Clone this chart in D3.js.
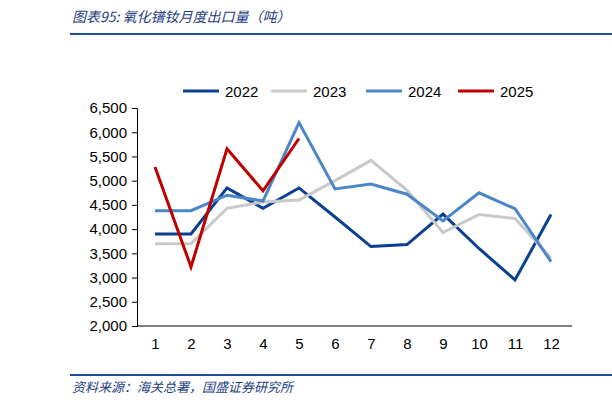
<!DOCTYPE html>
<html><head><meta charset="utf-8">
<script src="https://cdn.jsdelivr.net/npm/d3@7"></script>
<style>body{margin:0;background:#fff;font-family:"Liberation Sans",Arial,sans-serif}</style>
</head><body><svg id="c" width="612" height="409"></svg>
<script>
const months=[1,2,3,4,5,6,7,8,9,10,11,12];
const s2022=[3900,3900,4850,4430,4850,4250,3640,3680,4310,3600,2950,4300];
const s2023=[3700,3700,4430,4560,4600,5000,5420,4800,3930,4300,4220,3400];
const s2024=[4380,4380,4700,4580,6200,4830,4930,4720,4170,4750,4420,3330];
const s2025=[5280,3220,5660,4790,5870];
const yTicks=[2000,2500,3000,3500,4000,4500,5000,5500,6000,6500];
const series=[{n:"2022",v:s2022,c:"#0b3f8f"},{n:"2023",v:s2023,c:"#c9c9c9"},{n:"2024",v:s2024,c:"#4a86c8"},{n:"2025",v:s2025,c:"#c00000"}];
const svg=d3.select("#c");
svg.append("text").attr("x",72).attr("y",22).attr("fill","#1f3f7f").attr("font-size",14).attr("font-style","italic").attr("font-family","Noto Sans CJK SC").text("图表95: 氧化镨钕月度出口量（吨）");
svg.append("rect").attr("x",70).attr("y",33).attr("width",542).attr("height",2).attr("fill","#1f4e9f");
svg.append("rect").attr("x",70).attr("y",374).attr("width",542).attr("height",2).attr("fill","#1f4e9f");
svg.append("text").attr("x",72).attr("y",392).attr("fill","#1f3f7f").attr("font-size",13).attr("font-style","italic").attr("font-family","Noto Sans CJK SC").text("资料来源：海关总署，国盛证券研究所");
const x=d3.scalePoint().domain(months).range([155,551]);
const y=d3.scaleLinear().domain([2000,6500]).range([326,108]);
const g=svg.append("g");
const ya=g.append("g").attr("transform","translate(137,0)").call(d3.axisLeft(y).tickValues(yTicks).tickFormat(d3.format(",")).tickSize(5));
const xa=g.append("g").attr("transform","translate(0,326)").call(d3.axisBottom(x).tickSize(0).tickPadding(12));
xa.select(".domain").attr("d","M137,0H572").attr("stroke","#000");
[ya,xa].forEach(a=>a.selectAll("text").attr("font-size",15).attr("fill","#000").attr("font-family","Liberation Sans"));
ya.selectAll(".tick text").attr("dx",-2);
const line=d3.line().x((d,i)=>x(months[i])).y(d=>y(d));
series.forEach(s=>g.append("path").attr("d",line(s.v)).attr("fill","none").attr("stroke",s.c).attr("stroke-width",3));
const lx=[183,271,366,458];
series.forEach((s,i)=>{
 svg.append("line").attr("x1",lx[i]).attr("x2",lx[i]+36).attr("y1",91).attr("y2",91).attr("stroke",s.c).attr("stroke-width",3);
 svg.append("text").attr("x",lx[i]+42).attr("y",97).attr("font-size",15).text(s.n);
});
</script></body></html>
